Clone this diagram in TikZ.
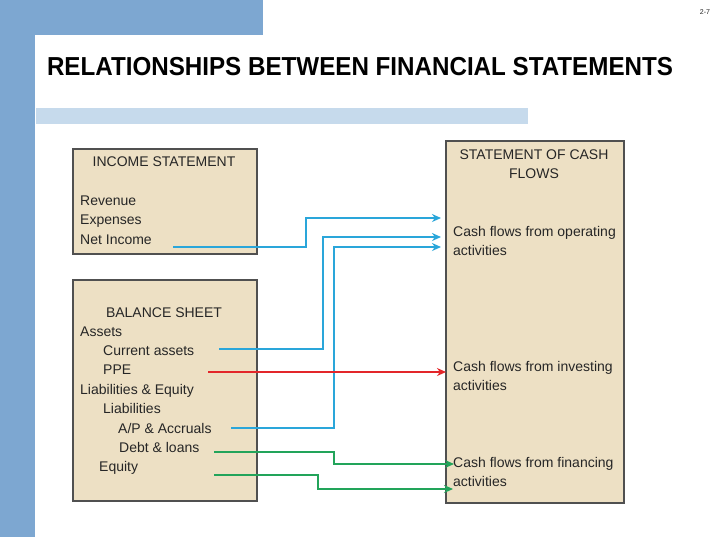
\documentclass[tikz,border=0pt]{standalone}
\usepackage{fontspec}
\setmainfont{Liberation Sans}
\usetikzlibrary{arrows.meta}
\definecolor{topbar}{HTML}{7DA7D1}
\definecolor{lightbar}{HTML}{C6DAEC}
\definecolor{boxfill}{HTML}{EDE0C4}
\definecolor{boxline}{HTML}{505050}
\definecolor{txt}{HTML}{262626}
\definecolor{cblue}{HTML}{2AA6DA}
\definecolor{cred}{HTML}{E3262A}
\definecolor{cgreen}{HTML}{22A45A}
\tikzset{
  panel/.style={draw=boxline, line width=1.8pt, fill=boxfill, anchor=north west, inner sep=0pt},
  lbl/.style={anchor=base west, inner sep=0pt, text=txt, font=\fontsize{14}{16}\selectfont},
  hdr/.style={anchor=base, inner sep=0pt, text=txt, font=\fontsize{14}{16}\selectfont},
  link/.style={line width=1.9pt, -{Stealth[length=9pt,width=8pt]}},
}
\begin{document}
\begin{tikzpicture}[x=1pt,y=-1pt]
\useasboundingbox (0,0) rectangle (720,539);
\fill[white] (0,0) rectangle (720,539);
% decorative bars
\fill[topbar] (0,0) rectangle (263,35);
\fill[topbar] (0,0) rectangle (35,537);
\fill[lightbar] (36,108) rectangle (528,124);
\node[anchor=center, inner sep=0pt, font=\fontsize{7}{8}\selectfont, text=txt] (pg) at (705,12) {2-7};
\node[anchor=center, inner sep=0pt, font=\bfseries\fontsize{26}{30}\selectfont] (title) at (360,67) {\scalebox{0.93}[1]{RELATIONSHIPS BETWEEN FINANCIAL STATEMENTS}};
% boxes
\node[panel, minimum width=184pt, minimum height=105pt] (is) at (72,148) {};
\node[panel, minimum width=184pt, minimum height=221pt] (bs) at (72,279) {};
\node[panel, minimum width=178pt, minimum height=362pt] (cf) at (445,140) {};
% income statement
\node[hdr] (ish) at (164,166) {INCOME STATEMENT};
\node[lbl] (rev) at (80,205) {Revenue};
\node[lbl] (exp) at (80,224) {Expenses};
\node[lbl] (ni) at (80,244) {Net Income};
% balance sheet
\node[hdr] (bsh) at (164,317) {BALANCE SHEET};
\node[lbl] (as) at (80,336) {Assets};
\node[lbl] (ca) at (103,355) {Current assets};
\node[lbl] (ppe) at (103,374) {PPE};
\node[lbl] (le) at (80,394) {Liabilities \& Equity};
\node[lbl] (li) at (103,413) {Liabilities};
\node[lbl] (ap) at (118,433) {A/P \& Accruals};
\node[lbl] (dl) at (119,452) {Debt \& loans};
\node[lbl] (eq) at (99,471) {Equity};
% cash flows
\node[hdr] (cfh1) at (534,159) {STATEMENT OF CASH};
\node[hdr] (cfh2) at (534,178) {FLOWS};
\node[lbl] (op1) at (453,236) {Cash flows from operating};
\node[lbl] (op2) at (453,255) {activities};
\node[lbl] (in1) at (453,371) {Cash flows from investing};
\node[lbl] (in2) at (453,390) {activities};
\node[lbl] (fi1) at (453,467) {Cash flows from financing};
\node[lbl] (fi2) at (453,486) {activities};
% connector end points
\coordinate (s1) at (173,247);
\coordinate (t1) at (441,218);
\coordinate (s2) at (219,349);
\coordinate (t2) at (441,237);
\coordinate (s3) at (231,428);
\coordinate (t3) at (441,247);
\coordinate (s4) at (208,372);
\coordinate (t4) at (446,372);
\coordinate (s5) at (214,452);
\coordinate (t5) at (454,464);
\coordinate (s6) at (214,475);
\coordinate (t6) at (453,489);
% connectors
\draw[link, cblue] (s1) -- (306,247) -- (306,218) -- (t1);
\draw[link, cblue] (s2) -- (323,349) -- (323,237) -- (t2);
\draw[link, cblue] (s3) -- (334,428) -- (334,247) -- (t3);
\draw[link, cred] (s4) -- (t4);
\draw[link, cgreen] (s5) -- (334,452) -- (334,464) -- (t5);
\draw[link, cgreen] (s6) -- (318,475) -- (318,489) -- (t6);
\end{tikzpicture}
\end{document}
